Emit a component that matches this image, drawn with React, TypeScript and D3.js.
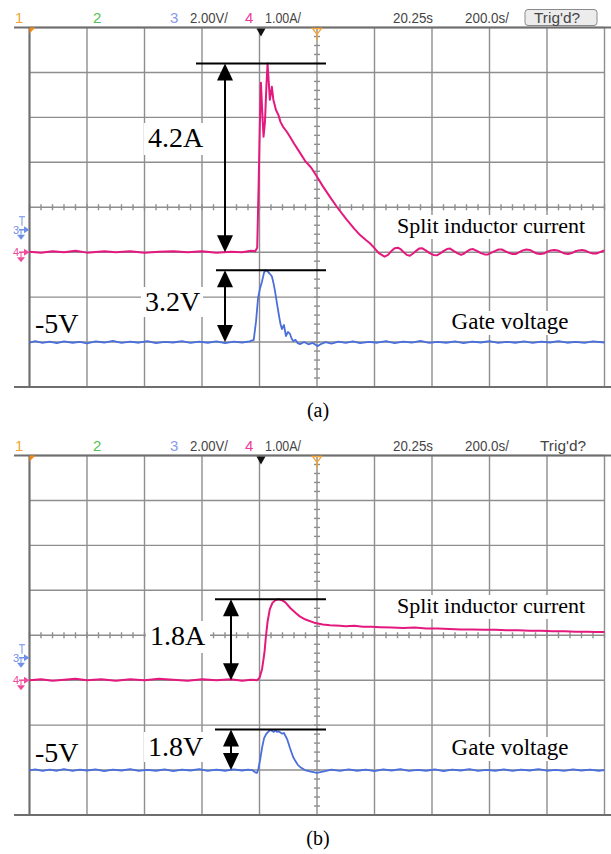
import React from "react";
import * as d3 from "d3";

const W = 611;
const H = 854;

// Scope screen geometry: 10 x 8 divisions
const GRID_LEFT = 29.5;
const GRID_RIGHT = 604.5;
const GRID_H = 359.5;

// Time base 200 ns/div, ch4 1 A/div, ch3 2 V/div
const TIME_DOMAIN: [number, number] = [0, 2000];
const AMP_DOMAIN: [number, number] = [-3, 5];
const VOLT_DOMAIN: [number, number] = [-7, 9];
const TRIGGER_T = 805;
const CENTER_T = 1000;

type Pt = [number, number];

// (a) split inductor current [ns, A]
const currentA: Pt[] = [
  [0, 0.01], [40, -0.01], [80, 0.02], [120, 0.0], [160, 0.03], [200, -0.01], [260, 0.02],
  [300, 0.0], [350, 0.02], [400, -0.01], [450, 0.01], [500, 0.02], [550, 0.0], [600, 0.02],
  [650, -0.01], [700, 0.01], [740, 0.0], [770, 0.03], [785, 0.02], [792, 0.1], [797, 1.5],
  [801, 2.77], [805, 3.77], [809, 3.2], [814, 2.57], [819, 2.9], [824, 3.7], [828, 4.2],
  [832, 3.8], [836, 3.39], [840, 3.55], [843, 3.68], [848, 3.4], [852, 3.3], [857, 3.17],
  [866, 3.05], [873, 2.9], [882, 2.79], [895, 2.68], [906, 2.57], [920, 2.42], [941, 2.21],
  [960, 2.02], [980, 1.88], [1000, 1.68], [1020, 1.47], [1045, 1.23], [1070, 1.0],
  [1104, 0.72], [1130, 0.52], [1150, 0.38], [1170, 0.27], [1184, 0.2], [1200, 0.09],
  [1215, -0.02], [1235, -0.1], [1247, -0.06], [1258, 0.02], [1270, 0.09], [1281, 0.1],
  [1292, 0.06], [1302, 0.0], [1312, -0.06], [1323, -0.08], [1334, -0.03], [1345, 0.03],
  [1355, 0.08], [1365, 0.09], [1378, 0.04], [1392, -0.02], [1405, -0.06], [1417, -0.07],
  [1430, -0.02], [1441, 0.03], [1452, 0.07], [1463, 0.08], [1475, 0.03], [1488, -0.02],
  [1501, -0.06], [1512, -0.03], [1522, 0.02], [1533, 0.06], [1543, 0.07], [1556, 0.03],
  [1570, -0.02], [1583, -0.05], [1595, -0.05], [1607, -0.01], [1620, 0.03], [1632, 0.06],
  [1643, 0.06], [1656, 0.02], [1669, -0.02], [1680, -0.04], [1692, -0.04], [1704, 0.0],
  [1716, 0.04], [1728, 0.06], [1740, 0.05], [1752, 0.01], [1765, -0.03], [1777, -0.04],
  [1789, -0.03], [1801, 0.01], [1813, 0.04], [1825, 0.05], [1837, 0.04], [1850, 0.0],
  [1862, -0.03], [1874, -0.04], [1886, -0.02], [1898, 0.02], [1910, 0.04], [1922, 0.05],
  [1935, 0.03], [1948, -0.01], [1960, -0.03], [1972, -0.03], [1984, 0.0], [1995, 0.03],
  [2000, 0.03],
];

// (a) gate voltage [ns, V]
const gateA: Pt[] = [
  [0, -5.02], [20, -4.96], [45, -5.04], [70, -4.98], [95, -5.05], [120, -4.97], [150, -5.03],
  [175, -4.99], [200, -5.06], [230, -4.97], [260, -5.02], [290, -4.95], [320, -5.04],
  [350, -4.98], [380, -5.03], [410, -4.96], [440, -5.05], [470, -4.99], [500, -5.02],
  [530, -4.96], [560, -5.04], [590, -4.98], [620, -5.03], [650, -4.97], [680, -5.05],
  [710, -4.98], [740, -5.02], [765, -4.97], [780, -4.9], [788, -4.07], [795, -3.04],
  [802, -2.6], [809, -2.29], [816, -1.9], [822, -1.8], [828, -1.85], [835, -1.95],
  [843, -2.07], [849, -2.4], [854, -2.73], [861, -3.3], [868, -3.84], [873, -4.2],
  [878, -4.42], [885, -4.24], [892, -4.73], [899, -4.55], [906, -4.64], [912, -4.85],
  [917, -4.96], [925, -4.9], [933, -5.05], [941, -5.09], [955, -5.0], [970, -5.1],
  [985, -5.04], [1003, -5.18], [1015, -5.08], [1030, -5.0], [1050, -5.07], [1075, -4.98],
  [1100, -5.04], [1125, -4.97], [1150, -5.05], [1180, -4.99], [1210, -5.03], [1240, -4.96],
  [1270, -5.05], [1300, -4.98], [1330, -5.02], [1360, -4.95], [1390, -5.04], [1420, -4.99],
  [1450, -5.03], [1480, -4.97], [1510, -5.05], [1540, -4.98], [1570, -5.02], [1600, -4.96],
  [1630, -5.04], [1660, -4.99], [1690, -5.03], [1720, -4.97], [1750, -5.04], [1780, -4.98],
  [1810, -5.02], [1840, -4.96], [1870, -5.03], [1900, -4.99], [1930, -5.04], [1960, -4.97],
  [2000, -5.02],
];

// (b) split inductor current [ns, A]
const currentB: Pt[] = [
  [0, 0.0], [40, 0.02], [80, -0.01], [120, 0.01], [160, 0.03], [200, 0.0], [250, 0.02],
  [300, -0.01], [350, 0.02], [400, 0.0], [450, 0.03], [500, 0.01], [550, -0.01], [600, 0.02],
  [650, 0.0], [700, 0.02], [740, -0.01], [770, 0.01], [791, 0.0], [800, 0.05], [809, 0.25],
  [817, 0.6], [822, 0.95], [828, 1.3], [836, 1.58], [845, 1.72], [855, 1.78], [866, 1.8],
  [878, 1.78], [890, 1.73], [908, 1.6], [925, 1.5], [940, 1.42], [960, 1.35], [990, 1.28],
  [1020, 1.24], [1045, 1.22], [1080, 1.21], [1100, 1.2], [1130, 1.21], [1160, 1.19],
  [1190, 1.19], [1220, 1.18], [1260, 1.17], [1300, 1.16], [1340, 1.17], [1380, 1.15],
  [1420, 1.15], [1460, 1.14], [1500, 1.13], [1540, 1.13], [1580, 1.12], [1620, 1.12],
  [1660, 1.11], [1700, 1.11], [1740, 1.1], [1780, 1.1], [1820, 1.09], [1860, 1.09],
  [1900, 1.08], [1940, 1.08], [1970, 1.07], [2000, 1.07],
];

// (b) gate voltage [ns, V]
const gateB: Pt[] = [
  [0, -5.01], [20, -4.97], [45, -5.04], [70, -4.98], [95, -5.03], [120, -4.96], [150, -5.04],
  [175, -4.98], [200, -5.02], [230, -4.97], [260, -5.05], [290, -4.98], [320, -5.02],
  [350, -4.96], [380, -5.04], [410, -4.99], [440, -5.03], [470, -4.97], [500, -5.05],
  [530, -4.98], [560, -5.02], [590, -4.96], [620, -5.04], [650, -4.98], [680, -5.03],
  [710, -4.97], [740, -5.02], [760, -4.98], [774, -5.0], [785, -5.1], [791, -5.13],
  [796, -4.95], [802, -4.56], [809, -4.0], [816, -3.58], [823, -3.4], [830, -3.3],
  [836, -3.22], [843, -3.25], [850, -3.3], [856, -3.22], [861, -3.3], [868, -3.28],
  [878, -3.38], [885, -3.35], [896, -3.62], [906, -4.02], [917, -4.42], [925, -4.6],
  [934, -4.78], [945, -4.9], [958, -5.0], [975, -5.06], [1000, -5.13], [1028, -5.05],
  [1050, -4.98], [1080, -5.04], [1110, -4.97], [1140, -5.03], [1170, -4.98], [1200, -5.05],
  [1230, -4.97], [1260, -5.02], [1290, -4.96], [1320, -5.04], [1350, -4.99], [1380, -5.03],
  [1410, -4.97], [1440, -5.05], [1470, -4.98], [1500, -5.02], [1530, -4.96], [1560, -5.04],
  [1590, -4.99], [1620, -5.03], [1650, -4.97], [1680, -5.04], [1710, -4.98], [1740, -5.02],
  [1770, -4.96], [1800, -5.03], [1830, -4.99], [1860, -5.04], [1890, -4.97], [1920, -5.02],
  [1950, -4.98], [1980, -5.03], [2000, -5.0],
];

const channelNames = ["1", "2", "3", "4"];
const ch3Scale = "2.00V/";
const ch4Scale = "1.00A/";
const delayLabel = "20.25s";
const timebaseLabel = "200.0s/";
const trigLabel = "Trig'd?";
const currentCaption = "Split inductor current";
const gateCaption = "Gate voltage";
const gateBaseline = -5;
const peakCurrent = [4.2, 1.8];
const peakGate = [3.2, 1.8];

const PINK = "#e4197e";
const BLUE = "#4a6fdc";
const GRID = "#8e8e8e";
const SERIF = "'Liberation Serif', 'Times New Roman', serif";
const SANS = "'Liberation Sans', Arial, sans-serif";

function Arrow({ x, y1, y2 }: { x: number; y1: number; y2: number }) {
  const hw = 8;
  const hl = 17;
  return (
    <g>
      <line x1={x} x2={x} y1={y1 + hl - 1} y2={y2 - hl + 1} stroke="#000" strokeWidth={2} />
      <path d={`M${x},${y1} L${x - hw},${y1 + hl} L${x + hw},${y1 + hl} Z`} fill="#000" />
      <path d={`M${x},${y2} L${x - hw},${y2 - hl} L${x + hw},${y2 - hl} Z`} fill="#000" />
    </g>
  );
}

function ChannelMarker({ y, label, color, trig }: { y: number; label: string; color: string; trig?: boolean }) {
  return (
    <g>
      {trig && (
        <g stroke={color} strokeWidth={1}>
          <line x1={19} x2={25} y1={y - 13} y2={y - 13} />
          <line x1={22} x2={22} y1={y - 13} y2={y - 4} />
        </g>
      )}
      <text x={13} y={y + 4} fontSize={11} fill={color} fontFamily={SANS}>{label}</text>
      <line x1={19} x2={25} y1={y} y2={y} stroke={color} strokeWidth={1.5} />
      <path d={`M24,${y - 3.5} L29.5,${y} L24,${y + 3.5} Z`} fill={color} />
      <line x1={21} x2={21} y1={y} y2={y + 5} stroke={color} strokeWidth={1} />
      <path d={`M17,${y + 5} L25,${y + 5} L21,${y + 10} Z`} fill={color} />
    </g>
  );
}

function LabelBox({ x, y, w, h }: { x: number; y: number; w: number; h: number }) {
  return <rect x={x} y={y} width={w} height={h} fill="#fff" />;
}

type PanelProps = {
  top: number;
  current: Pt[];
  gate: Pt[];
  peakA: number;
  peakV: number;
  boxedTrig: boolean;
  caption: string;
  arrowX: number;
  barAStart: number;
  barVStart: number;
  labelAX: number;
  labelAY: number;
  labelVX: number;
  labelVY: number;
  splitY: number;
  gateY: number;
  minus5Y: number;
};

function Panel(p: PanelProps) {
  const { top } = p;
  const bottom = top + GRID_H;
  const x = d3.scaleLinear().domain(TIME_DOMAIN).range([GRID_LEFT, GRID_RIGHT]);
  const yA = d3.scaleLinear().domain(AMP_DOMAIN).range([bottom, top]);
  const yV = d3.scaleLinear().domain(VOLT_DOMAIN).range([bottom, top]);

  const vLines = d3.range(TIME_DOMAIN[0], TIME_DOMAIN[1] + 1, 200);
  const hLines = d3.range(AMP_DOMAIN[0], AMP_DOMAIN[1] + 0.001, 1);
  const minorT = d3.range(TIME_DOMAIN[0], TIME_DOMAIN[1] + 1, 40);
  const minorA = d3.range(AMP_DOMAIN[0], AMP_DOMAIN[1] + 0.001, 0.2);
  const centerY = yA(1);
  const centerX = x(CENTER_T);

  const lineA = d3.line<Pt>().x((d) => x(d[0])).y((d) => yA(d[1]));
  const lineV = d3.line<Pt>().x((d) => x(d[0])).y((d) => yV(d[1]));

  const topA = yA(p.peakA);
  const baseA = yA(0);
  const topV = yV(gateBaseline + p.peakV);
  const baseV = yV(gateBaseline);

  const hdrY = top - 5;
  const fsBig = 28;

  return (
    <g>
      {/* header */}
      <g fontFamily={SANS} fontSize={15}>
        <text x={15} y={hdrY} fill="#f2a33a">{channelNames[0]}</text>
        <text x={93} y={hdrY} fill="#55c255">{channelNames[1]}</text>
        <text x={170} y={hdrY} fill="#8a9ae8">{channelNames[2]}</text>
        <text x={190} y={hdrY} fill="#454545" textLength={38} lengthAdjust="spacingAndGlyphs">{ch3Scale}</text>
        <text x={245} y={hdrY} fill="#ee3a98">{channelNames[3]}</text>
        <text x={265} y={hdrY} fill="#454545" textLength={36} lengthAdjust="spacingAndGlyphs">{ch4Scale}</text>
        <text x={393} y={hdrY} fill="#454545" textLength={40} lengthAdjust="spacingAndGlyphs">{delayLabel}</text>
        <text x={465} y={hdrY} fill="#454545" textLength={44} lengthAdjust="spacingAndGlyphs">{timebaseLabel}</text>
        {p.boxedTrig && (
          <rect x={525} y={top - 18} width={72} height={16} rx={3} fill="#ececec" stroke="#8a8a8a" strokeWidth={1} />
        )}
        <text x={p.boxedTrig ? 534 : 540} y={hdrY} fill="#454545" textLength={46} lengthAdjust="spacingAndGlyphs">{trigLabel}</text>
      </g>

      {/* graticule */}
      <g stroke={GRID} strokeWidth={1.4}>
        {vLines.map((t) => (
          <line key={`v${t}`} x1={x(t)} x2={x(t)} y1={top} y2={bottom} />
        ))}
        {hLines.map((a) => (
          <line key={`h${a}`} x1={GRID_LEFT} x2={GRID_RIGHT} y1={yA(a)} y2={yA(a)} />
        ))}
        {minorT.map((t) => (
          <line key={`mt${t}`} x1={x(t)} x2={x(t)} y1={centerY - 3} y2={centerY + 3} />
        ))}
        {minorA.map((a) => (
          <line key={`ma${a.toFixed(1)}`} x1={centerX - 3} x2={centerX + 3} y1={yA(a)} y2={yA(a)} />
        ))}
      </g>
      <g stroke="#6e6e6e" strokeWidth={2}>
        <line x1={14} x2={W} y1={top} y2={top} />
        <line x1={14} x2={W} y1={bottom} y2={bottom} />
        <line x1={GRID_LEFT} x2={GRID_LEFT} y1={top} y2={bottom} />
      </g>

      {/* screen markers */}
      <path d={`M${GRID_LEFT},${top} L${GRID_LEFT + 6},${top} L${GRID_LEFT},${top + 6} Z`} fill="#f08a1a" />
      <path d={`M${x(TRIGGER_T) - 4.5},${top + 1} L${x(TRIGGER_T) + 4.5},${top + 1} L${x(TRIGGER_T)},${top + 9} Z`} fill="#111" />
      <g stroke="#f2a33a" strokeWidth={1.3} fill="none">
        <path d={`M${centerX - 4.5},${top + 1} L${centerX + 4.5},${top + 1} L${centerX},${top + 7} Z`} />
        <line x1={centerX} x2={centerX} y1={top + 7} y2={top + 13} />
      </g>

      <ChannelMarker y={yV(0)} label={channelNames[2]} color="#6f8fe8" trig />
      <ChannelMarker y={yA(0)} label={channelNames[3]} color="#ef4a9c" />

      {/* white backing behind annotation text */}
      <LabelBox x={p.labelAX - 4} y={p.labelAY - 24} w={64} h={32} />
      <LabelBox x={p.labelVX - 4} y={p.labelVY - 24} w={62} h={30} />
      <LabelBox x={392} y={p.splitY - 18} w={206} h={24} />
      <LabelBox x={440} y={p.gateY - 18} w={140} h={24} />

      {/* traces */}
      <path d={lineV(p.gate) ?? ""} fill="none" stroke={BLUE} strokeWidth={1.8} strokeLinejoin="round" />
      <path d={lineA(p.current) ?? ""} fill="none" stroke={PINK} strokeWidth={2} strokeLinejoin="round" />

      {/* amplitude annotations */}
      <g stroke="#000" strokeWidth={2}>
        <line x1={p.barAStart} x2={326} y1={topA} y2={topA} />
        <line x1={p.barVStart} x2={326} y1={topV} y2={topV} />
      </g>
      <Arrow x={p.arrowX} y1={topA} y2={baseA} />
      <Arrow x={p.arrowX} y1={topV} y2={baseV} />

      <g fontFamily={SERIF} fill="#000">
        <text x={p.labelAX} y={p.labelAY} fontSize={fsBig}>{`${p.peakA}A`}</text>
        <text x={p.labelVX} y={p.labelVY} fontSize={fsBig}>{`${p.peakV}V`}</text>
        <text x={35} y={p.minus5Y} fontSize={fsBig}>{`${gateBaseline}V`}</text>
        <text x={397} y={p.splitY} fontSize={22}>{currentCaption}</text>
        <text x={510} y={p.gateY} fontSize={23} textAnchor="middle">{gateCaption}</text>
      </g>

      <text x={318} y={bottom + 30} fontFamily={SERIF} fontSize={20} textAnchor="middle">{p.caption}</text>
    </g>
  );
}

export default function App() {
  return (
    <svg width={W} height={H} viewBox={`0 0 ${W} ${H}`} style={{ display: "block", position: "absolute", left: 0, top: 0, background: "#fff" }}>
      <rect width={W} height={H} fill="#fff" />
      <Panel
        top={27.5}
        current={currentA}
        gate={gateA}
        peakA={peakCurrent[0]}
        peakV={peakGate[0]}
        boxedTrig={true}
        caption="(a)"
        arrowX={225}
        barAStart={196}
        barVStart={216}
        labelAX={148}
        labelAY={147}
        labelVX={145}
        labelVY={311}
        splitY={233}
        gateY={329}
        minus5Y={333}
      />
      <Panel
        top={455.5}
        current={currentB}
        gate={gateB}
        peakA={peakCurrent[1]}
        peakV={peakGate[1]}
        boxedTrig={false}
        caption="(b)"
        arrowX={231}
        barAStart={215}
        barVStart={215}
        labelAX={150}
        labelAY={645}
        labelVX={148}
        labelVY={756}
        splitY={613}
        gateY={755}
        minus5Y={762}
      />
    </svg>
  );
}
